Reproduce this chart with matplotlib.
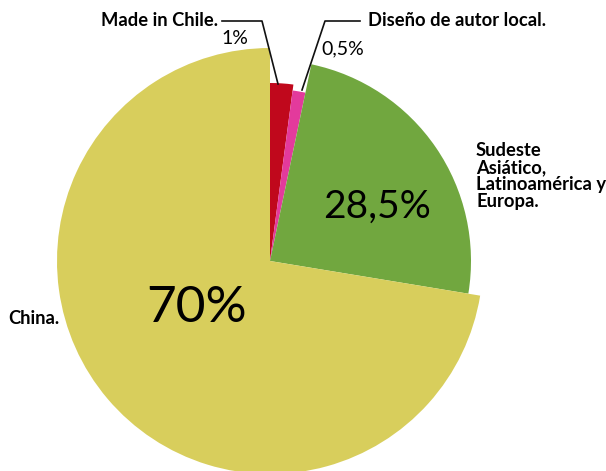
import matplotlib
matplotlib.use("Agg")
import matplotlib.pyplot as plt

# Data (as drawn in the reference)
categories = ["Made in Chile.", "Diseño de autor local.",
              "Sudeste\nAsiático,\nLatinoamérica y\nEuropa.", "China."]
pct_labels = ["1%", "0,5%", "28,5%", "70%"]
slice_share = [2.1, 1.2, 24.3, 72.4]   # angular share of each wedge as drawn

# Style
colors = ["#C0081C", "#E33A9C", "#71A73F", "#D8CE5C"]
radii = [178, 172, 201, 213]

W, H = 606, 471
fig = plt.figure(figsize=(W / 100, H / 100), dpi=100)
ax = fig.add_axes([0, 0, 1, 1])
plt.rcParams['font.family'] = ['Lato', 'DejaVu Sans']

cx, cy = 270, H - 261

def Y(y):
    return H - y

wedges, _ = ax.pie(slice_share, colors=colors, startangle=90, counterclock=False,
                   center=(cx, cy), radius=max(radii), frame=True,
                   wedgeprops=dict(linewidth=0))
for w, r in zip(wedges, radii):
    w.set_radius(r)

ax.set_xlim(0, W)
ax.set_ylim(0, H)
ax.set_aspect('equal')
ax.axis('off')

fam = ['Lato', 'DejaVu Sans']
fs = 13.2
# Category labels
ax.text(218, Y(20), categories[0], ha='right', va='center', fontsize=fs,
        fontweight='bold', family=fam)
ax.text(368, Y(21), categories[1], ha='left', va='center', fontsize=fs,
        fontweight='bold', family=fam)
ax.text(476, Y(176), categories[2], ha='left', va='center', fontsize=fs,
        fontweight='bold', family=fam, linespacing=1.0)
ax.text(8, Y(318), categories[3], ha='left', va='center', fontsize=fs,
        fontweight='bold', family=fam)

# leader lines
ax.plot([222, 262, 278], [Y(21), Y(21), Y(84)], color='#111111', lw=1.2)
ax.plot([360, 325, 302], [Y(21), Y(21), Y(90)], color='#111111', lw=1.2)

# percentage labels
ax.text(235, Y(39), pct_labels[0], ha='center', va='center', fontsize=14, family=fam)
ax.text(343, Y(49), pct_labels[1], ha='center', va='center', fontsize=14, family=fam)
ax.text(377, Y(207), pct_labels[2], ha='center', va='center', fontsize=28, family=fam)
ax.text(197, Y(308), pct_labels[3], ha='center', va='center', fontsize=37, family=fam)

fig.savefig("out.png", dpi=100)
